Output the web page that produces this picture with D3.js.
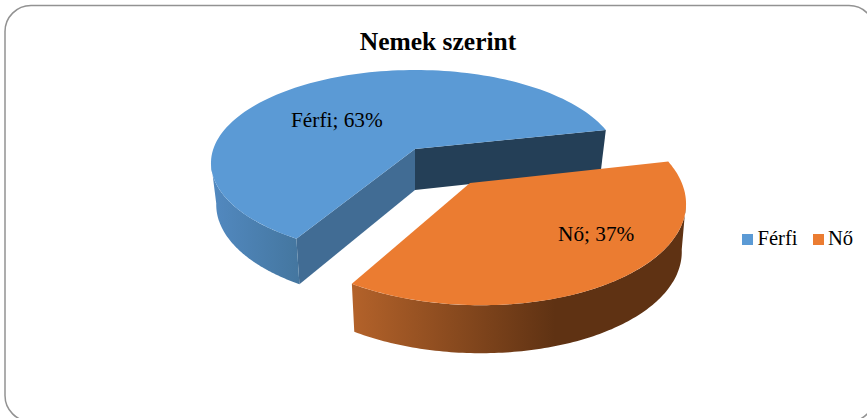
<!DOCTYPE html>
<html><head><meta charset="utf-8">
<script src="https://cdn.jsdelivr.net/npm/d3@7"></script>
<style>html,body{margin:0;padding:0;background:#fff}svg{display:block}text{font-family:"Liberation Serif",serif;fill:#000}</style>
</head><body><svg id="c" width="867" height="418"></svg>
<script>
const categories = ["Férfi", "Nő"];
const shares = [63, 37];
const labels = ["Férfi; 63%", "Nő; 37%"];
const title = "Nemek szerint";
const colours = ["#5b9ad5", "#eb7c31"];

const svg = d3.select("#c");
const defs = svg.append("defs");
const g1 = defs.append("linearGradient").attr("id","wallB").attr("gradientUnits","userSpaceOnUse").attr("x1",212).attr("x2",300).attr("y1",0).attr("y2",0);
g1.append("stop").attr("offset",0).attr("stop-color","#5289c0");
g1.append("stop").attr("offset",1).attr("stop-color","#44769f");
const g2 = defs.append("linearGradient").attr("id","wallO").attr("gradientUnits","userSpaceOnUse").attr("x1",353).attr("x2",555).attr("y1",0).attr("y2",0);
g2.append("stop").attr("offset",0).attr("stop-color","#b3622a");
g2.append("stop").attr("offset",1).attr("stop-color","#5f3213");

svg.append("rect").attr("x",5).attr("y",5.5).attr("width",870).attr("height",416).attr("rx",26).attr("ry",26)
  .attr("fill","#fff").attr("stroke","#929292").attr("stroke-width",1.5);

// d3.pie gives the angles; a perspective projection turns them into the tilted disc
const rad = Math.PI/180;
const pie = d3.pie().sort(null).value(d => d).startAngle(210.8*rad).endAngle((210.8+360)*rad);
const arcs = pie(shares);
function projector(p){
  return a => {
    const u = Math.sin(a), v = -Math.cos(a), w = 1 - p.k*v - p.l*u;
    return [p.cx + (p.B*u + p.S*v)/w, p.cy + p.A*v/w];
  };
}
const blueTop = projector({cx:415,cy:149,A:90.9,B:201.7,S:0,k:.1505,l:0});
const blueBot = projector({cx:415,cy:190,A:95.5,B:196.5,S:0,k:.1505,l:0});
const orTop = projector({cx:470,cy:183,A:101.3,B:207.6,S:5,k:.171,l:.02});
const orBot = projector({cx:470,cy:231,A:101.3,B:203.5,S:5,k:.171,l:.02});
const line = d3.line();
const sample = (f,a0,a1) => d3.range(0,121).map(i => f(a0+(a1-a0)*i/120));
const [ab, ao] = arcs;

// Blue slice: back cut face, inner cut face, outer wall, top
const bTopApex=[415,149], bBotApex=[415,190];
svg.append("path").attr("d", line([bTopApex, blueTop(ab.endAngle), blueBot(ab.endAngle), bBotApex])+"Z").attr("fill","#243f57");
svg.append("path").attr("d", line([bTopApex, blueTop(ab.startAngle), blueBot(ab.startAngle), bBotApex])+"Z").attr("fill","#416c94");
const wallEnd = 262*rad;
svg.append("path").attr("d", line([...sample(blueTop,ab.startAngle,wallEnd), ...sample(blueBot,wallEnd,ab.startAngle)])+"Z").attr("fill","url(#wallB)");
svg.append("path").attr("d", line([bTopApex, ...sample(blueTop,ab.startAngle,ab.endAngle)])+"Z").attr("fill",colours[0]);

// Orange slice: outer wall, top
const orWallStart = 460*rad;
svg.append("path").attr("d", line([...sample(orTop,orWallStart,ao.endAngle), ...sample(orBot,ao.endAngle,orWallStart)])+"Z").attr("fill","url(#wallO)");
svg.append("path").attr("d", line([[470,183], ...sample(orTop,ao.startAngle,ao.endAngle)])+"Z").attr("fill",colours[1]);

// Texts
svg.append("text").attr("x",438).attr("y",50).attr("text-anchor","middle").attr("font-size",25.5).attr("font-weight","bold").text(title);
const labelPos = [[291,127],[558,241]];
labels.forEach((t,i)=>svg.append("text").attr("x",labelPos[i][0]).attr("y",labelPos[i][1]).attr("font-size",21.3).text(t));

// Legend
const legX = [742,813], legTx = [757.5,828];
categories.forEach((c,i)=>{
  svg.append("rect").attr("x",legX[i]).attr("y",234).attr("width",11).attr("height",11).attr("fill",colours[i]);
  svg.append("text").attr("x",legTx[i]).attr("y",245).attr("font-size",20.6).text(c);
});
</script></body></html>
